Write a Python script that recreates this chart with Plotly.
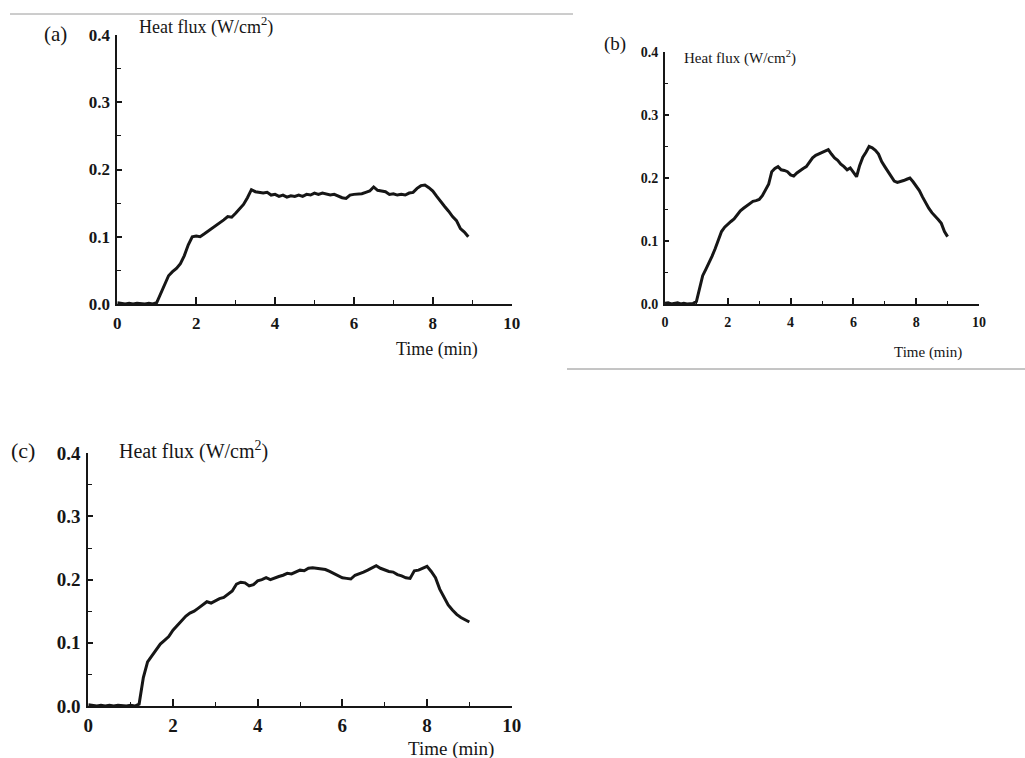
import plotly.graph_objects as go

T_START = 0.0
T_STEP = 0.1

heat_a = [0.002, 0.001, 0.000, 0.001, 0.000, 0.001, 0.000, 0.000, 0.001, 0.000,
          0.002, 0.015, 0.030, 0.042, 0.048, 0.053, 0.060, 0.072, 0.088, 0.100,
          0.101, 0.100, 0.104, 0.108, 0.113, 0.117, 0.120, 0.125, 0.130, 0.129,
          0.135, 0.142, 0.148, 0.158, 0.170, 0.167, 0.166, 0.165, 0.166, 0.162,
          0.163, 0.160, 0.162, 0.159, 0.161, 0.160, 0.162, 0.160, 0.163, 0.162,
          0.165, 0.163, 0.165, 0.164, 0.162, 0.163, 0.160, 0.158, 0.157, 0.162,
          0.163, 0.163, 0.164, 0.166, 0.168, 0.174, 0.169, 0.168, 0.167, 0.163,
          0.164, 0.162, 0.163, 0.162, 0.165, 0.166, 0.172, 0.176, 0.177, 0.173,
          0.168, 0.160, 0.152, 0.145, 0.138, 0.130, 0.124, 0.112, 0.107, 0.100]

heat_b = [0.001, 0.002, 0.000, 0.001, 0.002, 0.000, 0.001, 0.000, 0.000, 0.001,
          0.004, 0.025, 0.045, 0.055, 0.065, 0.076, 0.088, 0.103, 0.115, 0.122,
          0.127, 0.131, 0.135, 0.141, 0.148, 0.152, 0.156, 0.159, 0.163, 0.164,
          0.166, 0.172, 0.180, 0.190, 0.210, 0.215, 0.218, 0.213, 0.212, 0.210,
          0.205, 0.203, 0.208, 0.212, 0.215, 0.218, 0.226, 0.232, 0.236, 0.238,
          0.240, 0.242, 0.245, 0.238, 0.232, 0.228, 0.222, 0.218, 0.213, 0.216,
          0.208, 0.202, 0.220, 0.233, 0.241, 0.250, 0.248, 0.244, 0.238, 0.226,
          0.218, 0.210, 0.203, 0.195, 0.193, 0.194, 0.196, 0.198, 0.200, 0.194,
          0.187, 0.180, 0.170, 0.160, 0.152, 0.145, 0.140, 0.134, 0.128, 0.115,
          0.107]

heat_c = [0.002, 0.001, 0.000, 0.001, 0.000, 0.001, 0.000, 0.001, 0.000, 0.000,
          0.001, 0.000, 0.003, 0.045, 0.070, 0.080, 0.090, 0.098, 0.104, 0.110,
          0.120, 0.127, 0.135, 0.142, 0.147, 0.150, 0.155, 0.160, 0.165, 0.163,
          0.167, 0.170, 0.172, 0.177, 0.182, 0.193, 0.196, 0.195, 0.190, 0.192,
          0.198, 0.200, 0.203, 0.200, 0.203, 0.205, 0.207, 0.210, 0.209, 0.212,
          0.215, 0.214, 0.218, 0.219, 0.218, 0.217, 0.216, 0.213, 0.210, 0.206,
          0.203, 0.202, 0.201, 0.207, 0.209, 0.212, 0.215, 0.219, 0.222, 0.218,
          0.215, 0.213, 0.212, 0.208, 0.206, 0.203, 0.202, 0.214, 0.215, 0.218,
          0.221, 0.213, 0.203, 0.185, 0.172, 0.160, 0.152, 0.145, 0.140, 0.137,
          0.133]

x_ticks = [0, 2, 4, 6, 8, 10]
y_ticks = [0.0, 0.1, 0.2, 0.3, 0.4]
panel_labels = ["(a)", "(b)", "(c)"]
y_title = "Heat flux (W/cm<sup>2</sup>)"
x_title = "Time (min)"

W, H = 1025, 758
FONT = "Liberation Serif, Times New Roman, serif"
INK = "#161616"


def px(x):
    return x / W


def py(y):
    return 1 - y / H


fig = go.Figure()
series = [heat_a, heat_b, heat_c]
for i, s in enumerate(series):
    suffix = "" if i == 0 else str(i + 1)
    fig.add_trace(go.Scatter(
        x0=T_START, dx=T_STEP, y=s, mode="lines",
        line=dict(color=INK, width=3),
        xaxis="x" + suffix, yaxis="y" + suffix, showlegend=False,
        hoverinfo="skip",
    ))

# panel geometry (pixels): x0, x1, ybottom, ytop, tick font size, tick lengths
panels = [
    dict(x0=117.3, x1=511.7, yb=304, yt=35, fs=17, ml=7, mn=4, sx=3),
    dict(x0=665, x1=979, yb=304, yt=52, fs=14, ml=6, mn=3, sx=4),
    dict(x0=88.3, x1=511.7, yb=706, yt=453.3, fs=19, ml=7, mn=4, sx=1),
]

layout = dict(
    template="none",
    width=W, height=H,
    margin=dict(l=0, r=0, t=0, b=0, pad=0, autoexpand=False),
    paper_bgcolor="white", plot_bgcolor="white",
    font=dict(family=FONT, color=INK),
    showlegend=False,
)
for i, p in enumerate(panels):
    suffix = "" if i == 0 else str(i + 1)
    anchor_x = "y" + suffix
    anchor_y = "x" + suffix
    tf = dict(family=FONT, size=p["fs"], color=INK, weight="bold")
    layout["xaxis" + suffix] = dict(
        domain=[px(p["x0"]), px(p["x1"])], anchor=anchor_x, range=[0, 10],
        tickvals=x_ticks, ticks="inside", ticklen=p["ml"], tickwidth=1.6,
        tickcolor=INK, showline=True, linecolor=INK, linewidth=2,
        showgrid=False, zeroline=False, ticklabelstandoff=p["sx"],
        automargin=False, tickfont=tf,
        minor=dict(dtick=1, tick0=0, ticks="inside", ticklen=p["mn"], tickwidth=1.4,
                   tickcolor=INK, showgrid=False),
        fixedrange=True,
    )
    layout["yaxis" + suffix] = dict(
        domain=[py(p["yb"]), py(p["yt"])], anchor=anchor_y, range=[0, 0.4],
        tickvals=y_ticks, tickformat=".1f", ticks="inside", ticklen=p["ml"] - 2,
        tickwidth=1.6, tickcolor=INK, showline=True, linecolor=INK, linewidth=2,
        showgrid=False, zeroline=False, ticklabelstandoff=2,
        automargin=False, tickfont=tf,
        minor=dict(dtick=0.05, tick0=0, ticks="inside", ticklen=p["mn"], tickwidth=1.4,
                   tickcolor=INK, showgrid=False),
        fixedrange=True,
    )

fig.update_layout(**layout)

# text placements (pixels)
texts = [
    (panel_labels[0], 55, 34, 21, "center"),
    (y_title, 137, 26, 18, "left"),
    (x_title, 437, 350, 18, "center"),
    (panel_labels[1], 615, 44, 19, "center"),
    (y_title, 682, 58, 15, "left"),
    (x_title, 928, 352, 15, "center"),
    (panel_labels[2], 23, 450, 22, "center"),
    (y_title, 117, 450, 20, "left"),
    (x_title, 451, 749, 19, "center"),
]
for txt, x, y, size, anchor in texts:
    fig.add_annotation(
        text=txt, xref="paper", yref="paper", x=px(x), y=py(y),
        xanchor=anchor, yanchor="middle", showarrow=False,
        font=dict(family=FONT, size=size, color=INK),
    )

# page rules from the scanned layout
fig.add_shape(type="line", xref="paper", yref="paper",
              x0=px(10), x1=px(573), y0=py(14), y1=py(14),
              line=dict(color="#9a9a9a", width=1))
fig.add_shape(type="line", xref="paper", yref="paper",
              x0=px(567), x1=px(1025), y0=py(369), y1=py(369),
              line=dict(color="#8a8a8a", width=1))

fig.write_html("out.html")
